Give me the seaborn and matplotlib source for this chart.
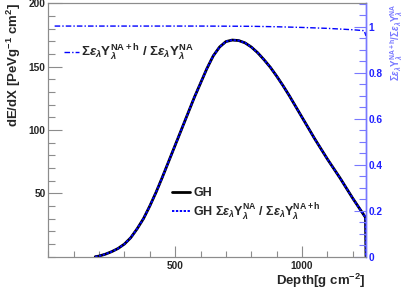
import numpy as np
import pandas as pd
import seaborn as sns
import matplotlib
matplotlib.use("Agg")
import matplotlib.pyplot as plt
from matplotlib.ticker import MultipleLocator, FixedLocator

# depth [g cm^-2] and energy deposit [PeV g^-1 cm^2]
depth = [185, 200, 225, 250, 275, 300, 325, 350, 375, 400, 425, 450, 475, 500,
         525, 550, 575, 600, 625, 650, 675, 700, 725, 750, 775, 800, 825, 850,
         875, 900, 925, 950, 975, 1000, 1025, 1050, 1075, 1100, 1125, 1150,
         1175, 1200, 1225, 1250, 1252]
gh = [0, 0.5, 2, 4, 6.5, 10, 15, 22, 30, 40, 51, 63, 75.5, 88,
      100.5, 113, 125.5, 137, 148.5, 158.5, 165.5, 169.8, 171, 170.6, 168.8, 165.5, 161, 155.5,
      149.5, 142.5, 135, 127, 118.5, 110, 101.5, 93, 85, 77, 69.5, 62,
      54, 46, 38.5, 31, 0]
# GH corrected by the yield ratio (indistinguishable at this scale)
gh_corr = [0, 0.5, 2, 4, 6.5, 10, 15, 22, 30, 40, 51, 63, 75.5, 88,
           100.5, 113, 125.5, 137, 148.5, 158.5, 165.5, 169.8, 171, 170.6, 168.8, 165.5, 161, 155.5,
           149.5, 142.5, 135, 127, 118.5, 110, 101.5, 93, 85, 77, 69.5, 62,
           54, 46, 38.5, 31, 0]

# yield ratio sum(eps*Y^{NA+h}) / sum(eps*Y^{NA})
ratio_depth = [25, 200, 400, 600, 800, 900, 1000, 1100, 1200, 1245, 1252]
ratio = [1.003, 1.003, 1.003, 1.003, 1.002, 1.000, 0.997, 0.993, 0.987, 0.983, 0.96]

x_major = [500, 1000]
y_major = [50, 100, 150, 200]
r_major = [0, 0.2, 0.4, 0.6, 0.8, 1.0]

sns.set_style("white")
plt.rcParams['font.family'] = ['Liberation Sans', 'DejaVu Sans']
plt.rcParams['font.weight'] = 'bold'
plt.rcParams['mathtext.fontset'] = 'custom'
plt.rcParams['mathtext.rm'] = 'Liberation Sans'
plt.rcParams['mathtext.bf'] = 'Liberation Sans:bold'
plt.rcParams['mathtext.it'] = 'Liberation Sans:italic'

grey = '#8c8c8c'
blue = '#0000ff'
lblue = '#7878ff'

fig = plt.figure(figsize=(4.07, 2.93), dpi=100)
ax = fig.add_axes([48.3 / 407, 1 - 256.7 / 293, (366 - 48.3) / 407, (256.7 - 3.3) / 293])
ax2 = ax.twinx()

df = pd.DataFrame({'depth': depth, 'gh': gh, 'gh_corr': gh_corr})
rdf = pd.DataFrame({'depth': ratio_depth, 'ratio': ratio})

sns.lineplot(data=df, x='depth', y='gh', ax=ax, color='black', lw=2.0,
             estimator=None, sort=False, legend=False)
l_gh = ax.lines[-1]
sns.lineplot(data=df, x='depth', y='gh_corr', ax=ax, color=blue, lw=1.4,
             estimator=None, sort=False, legend=False)
l_corr = ax.lines[-1]
l_corr.set_dashes((1.2, 0.8))

sns.lineplot(data=rdf, x='depth', y='ratio', ax=ax2, color=blue, lw=1.0,
             estimator=None, sort=False, legend=False)
l_ratio = ax2.lines[-1]
l_ratio.set_dashes((4, 1.5, 1, 1.5))

ax.set_xlim(0, 1252)
ax.set_ylim(0, 200)
ax2.set_ylim(0, 1.102)

ax.xaxis.set_major_locator(FixedLocator(x_major))
ax.xaxis.set_minor_locator(MultipleLocator(100))
ax.yaxis.set_major_locator(FixedLocator(y_major))
ax.yaxis.set_minor_locator(MultipleLocator(10))
ax2.yaxis.set_major_locator(FixedLocator(r_major))
ax2.yaxis.set_minor_locator(MultipleLocator(0.05))
ax2.set_yticklabels(['0', '0.2', '0.4', '0.6', '0.8', '1'])

ax.tick_params(axis='x', which='major', direction='in', length=8, width=0.8, color=grey,
               labelsize=7.3, pad=3, bottom=True)
ax.tick_params(axis='x', which='minor', direction='in', length=4, width=0.8, color=grey, bottom=True)
ax.tick_params(axis='y', which='major', direction='in', length=10, width=0.8, color=grey,
               labelsize=7.3, pad=2, left=True)
ax.tick_params(axis='y', which='minor', direction='in', length=5, width=0.8, color=grey, left=True)
ax2.tick_params(axis='y', which='major', direction='in', length=9, width=0.8, color=lblue,
                labelsize=7.3, pad=2, labelcolor='#2020ff', right=True)
ax2.tick_params(axis='y', which='minor', direction='in', length=5, width=0.8, color=lblue, right=True)

for a in (ax, ax2):
    for s in ('top', 'bottom', 'left'):
        a.spines[s].set_color(grey)
        a.spines[s].set_linewidth(0.8)
    a.spines['right'].set_color(lblue)
    a.spines['right'].set_linewidth(1.0)

ax.set_xlabel(r'Depth[g cm$^{\mathbf{-2}}$]', fontsize=9.5, fontweight='bold', loc='right', labelpad=0.5)
ax.set_ylabel(r'dE/dX [PeVg$^{\mathbf{-1}}$ cm$^{\mathbf{2}}$]', fontsize=9.5, fontweight='bold',
              loc='top', labelpad=4)
ax2.set_ylabel(r'$\Sigma\varepsilon_{\lambda}\mathbf{Y}_{\lambda}^{\mathbf{NA+h}}/\Sigma\varepsilon_{\lambda}\mathbf{Y}_{\lambda}^{\mathbf{NA}}$',
               fontsize=7, color=lblue, loc='top', labelpad=4)

lab_ratio = r'$\Sigma\varepsilon_{\lambda}\mathbf{Y}_{\lambda}^{\mathbf{NA+h}}$ / $\Sigma\varepsilon_{\lambda}\mathbf{Y}_{\lambda}^{\mathbf{NA}}$'
lab_corr = r'GH $\Sigma\varepsilon_{\lambda}\mathbf{Y}_{\lambda}^{\mathbf{NA}}$ / $\Sigma\varepsilon_{\lambda}\mathbf{Y}_{\lambda}^{\mathbf{NA+h}}$'

leg1 = ax2.legend([l_ratio], [lab_ratio], loc='center left', bbox_to_anchor=(64 / 407, 1 - 52 / 293),
                  bbox_transform=fig.transFigure, frameon=False, fontsize=9.6, borderpad=0,
                  borderaxespad=0, handlelength=1.1, handletextpad=0.2)
ax2.add_artist(leg1)
ax2.legend([l_gh, l_corr], ['GH', lab_corr], loc='center left', bbox_to_anchor=(172 / 407, 1 - 204.5 / 293),
           bbox_transform=fig.transFigure, frameon=False, fontsize=9, borderpad=0,
           borderaxespad=0, handlelength=1.4, handletextpad=0.3, labelspacing=0.15)

fig.savefig('out.png', dpi=100)
